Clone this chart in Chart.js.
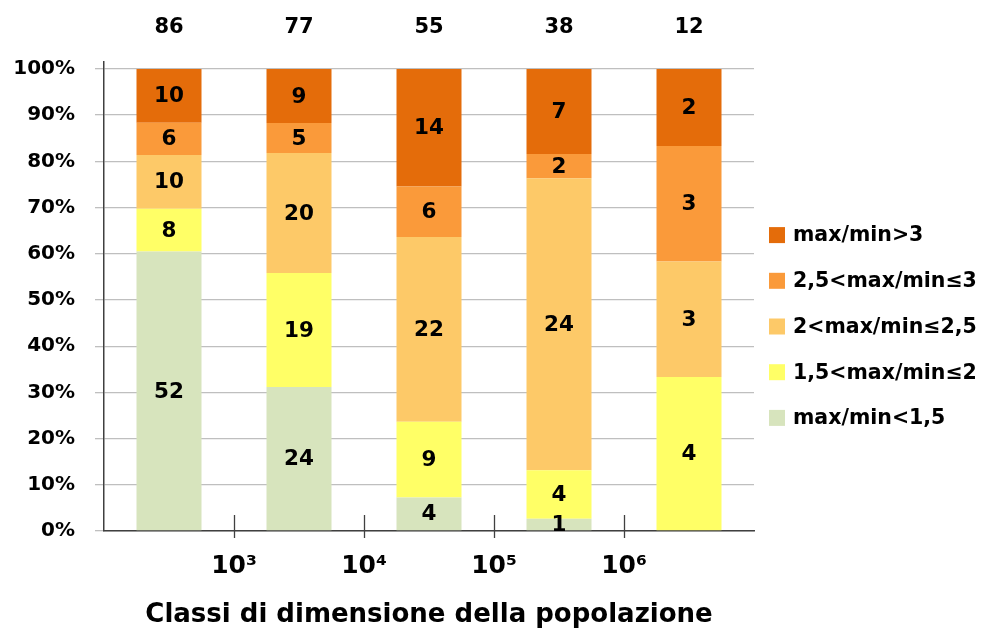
<!DOCTYPE html>
<html>
<head>
<meta charset="utf-8">
<script src="https://cdn.jsdelivr.net/npm/chart.js@4.4.1/dist/chart.umd.min.js"></script>
<style>
html, body { margin: 0; padding: 0; background: #fff; }
#wrap { width: 983px; height: 631px; }
</style>
</head>
<body>
<div id="wrap"><canvas id="popChart"></canvas></div>
<script>
// classes of population size (bars) and the boundaries drawn under the axis
var classes = ['<10³', '10³-10⁴', '10⁴-10⁵', '10⁵-10⁶', '>10⁶'];
var boundaryLabels = ['10³', '10⁴', '10⁵', '10⁶'];
var totals = [86, 77, 55, 38, 12];

var seriesNames = ['max/min<1,5', '1,5<max/min≤2', '2<max/min≤2,5', '2,5<max/min≤3', 'max/min>3'];
var seriesColors = ['#D7E4BD', '#FFFF66', '#FDC968', '#FA9A3A', '#E46C0A'];

// number of municipalities in each class
var below15 = [52, 24, 4, 1, 0];
var from15to2 = [8, 19, 9, 4, 4];
var from2to25 = [10, 20, 22, 24, 3];
var from25to3 = [6, 5, 6, 2, 3];
var above3 = [10, 9, 14, 7, 2];
var counts = [below15, from15to2, from2to25, from25to3, above3];

var FONT = "'DejaVu Sans', 'Liberation Sans', sans-serif";

function toPercent(arr) {
    return arr.map(function (v, i) { return v / totals[i] * 100; });
}

var datasets = counts.map(function (arr, k) {
    return {
        label: seriesNames[k],
        data: toPercent(arr),
        counts: arr,
        backgroundColor: seriesColors[k],
        borderWidth: 0,
        barPercentage: 0.5,
        categoryPercentage: 1.0,
        xAxisID: 'x',
        yAxisID: 'y'
    };
});

// counts inside segments + totals above bars
var labelPlugin = {
    id: 'labelPlugin',
    afterDatasetsDraw: function (chart) {
        var ctx = chart.ctx;
        ctx.save();
        ctx.fillStyle = '#000';
        ctx.textAlign = 'center';
        ctx.textBaseline = 'middle';
        ctx.font = 'bold 21.5px ' + FONT;
        chart.data.datasets.forEach(function (ds, k) {
            var meta = chart.getDatasetMeta(k);
            meta.data.forEach(function (bar, i) {
                if (!ds.counts[i]) return;
                ctx.fillText(String(ds.counts[i]), bar.x, (bar.y + bar.base) / 2 + 1);
            });
        });
        ctx.font = 'bold 21px ' + FONT;
        var first = chart.getDatasetMeta(0);
        first.data.forEach(function (bar, i) {
            ctx.fillText(String(totals[i]), bar.x, chart.chartArea.top - 34);
        });
        ctx.restore();
    }
};

// tick marks at the class boundaries, crossing the x axis
var boundaryTicks = {
    id: 'boundaryTicks',
    afterDraw: function (chart) {
        var ctx = chart.ctx;
        var xb = chart.scales.xb;
        var bottom = chart.chartArea.bottom;
        ctx.save();
        ctx.strokeStyle = '#404040';
        ctx.lineWidth = 1.3;
        boundaryLabels.forEach(function (l, i) {
            var x = Math.round(xb.getPixelForValue(i + 0.5)) + 0.5;
            ctx.beginPath();
            ctx.moveTo(x, bottom - 16);
            ctx.lineTo(x, bottom + 7);
            ctx.stroke();
        });
        ctx.restore();
    }
};

// legend on the right, last series on top
var sideLegend = {
    id: 'sideLegend',
    afterDraw: function (chart) {
        var ctx = chart.ctx;
        var area = chart.chartArea;
        var ds = chart.data.datasets.slice().reverse();
        var step = 45.7;
        var y0 = (area.top + area.bottom) / 2 + 30 - step * (ds.length - 1) / 2;
        var x0 = area.right + 15;
        ctx.save();
        ctx.font = 'bold 20.5px ' + FONT;
        ctx.textBaseline = 'middle';
        ctx.textAlign = 'left';
        ds.forEach(function (d, i) {
            var y = y0 + i * step;
            ctx.fillStyle = d.backgroundColor;
            ctx.fillRect(x0, y - 8, 16, 16);
            ctx.fillStyle = '#000';
            ctx.fillText(d.label, x0 + 24, y + 1);
        });
        ctx.restore();
    }
};

var ctx = document.getElementById('popChart').getContext('2d');
var chartInstance = new Chart(ctx, {
    type: 'bar',
    data: {
        labels: classes,
        datasets: datasets
    },
    options: {
        responsive: true,
        maintainAspectRatio: false,
        animation: false,
        devicePixelRatio: 1,
        layout: {
            padding: { left: 12, right: 229, top: 62, bottom: 0 }
        },
        scales: {
            x: {
                type: 'category',
                stacked: true,
                offset: true,
                afterFit: function (axis) { axis.height = 0; },
                grid: { display: false },
                ticks: { display: false },
                border: { display: true, color: '#404040', width: 1.5 }
            },
            xb: {
                type: 'linear',
                position: 'bottom',
                offset: false,
                min: -0.5,
                max: 4.5,
                afterBuildTicks: function (axis) {
                    axis.ticks = boundaryLabels.map(function (l, i) { return { value: i + 0.5 }; });
                },
                afterFit: function (axis) { axis.height = 100; },
                grid: { display: false, offset: false },
                border: { display: false },
                ticks: {
                    autoSkip: false,
                    maxRotation: 0,
                    padding: 12,
                    color: '#000',
                    font: { family: FONT, size: 25, weight: 'bold' },
                    callback: function (v, i) { return boundaryLabels[i]; }
                },
                title: {
                    display: true,
                    text: 'Classi di dimensione della popolazione',
                    color: '#000',
                    font: { family: FONT, size: 26, weight: 'bold' },
                    padding: { top: 12, bottom: 0 }
                }
            },
            y: {
                stacked: true,
                min: 0,
                max: 101.5,
                afterBuildTicks: function (axis) {
                    var t = [];
                    for (var v = 0; v <= 100; v += 10) t.push({ value: v });
                    axis.ticks = t;
                },
                afterFit: function (axis) { axis.width = 92; },
                grid: { color: '#BFBFBF', lineWidth: 1.3, tickLength: 9 },
                border: { display: true, color: '#404040', width: 1.5 },
                ticks: {
                    padding: 20,
                    color: '#000',
                    font: { family: FONT, size: 20, weight: 'bold' },
                    callback: function (v) { return v + '%'; }
                }
            }
        },
        plugins: {
            legend: { display: false },
            tooltip: { enabled: false }
        }
    },
    plugins: [labelPlugin, boundaryTicks, sideLegend]
});
</script>
</body>
</html>
